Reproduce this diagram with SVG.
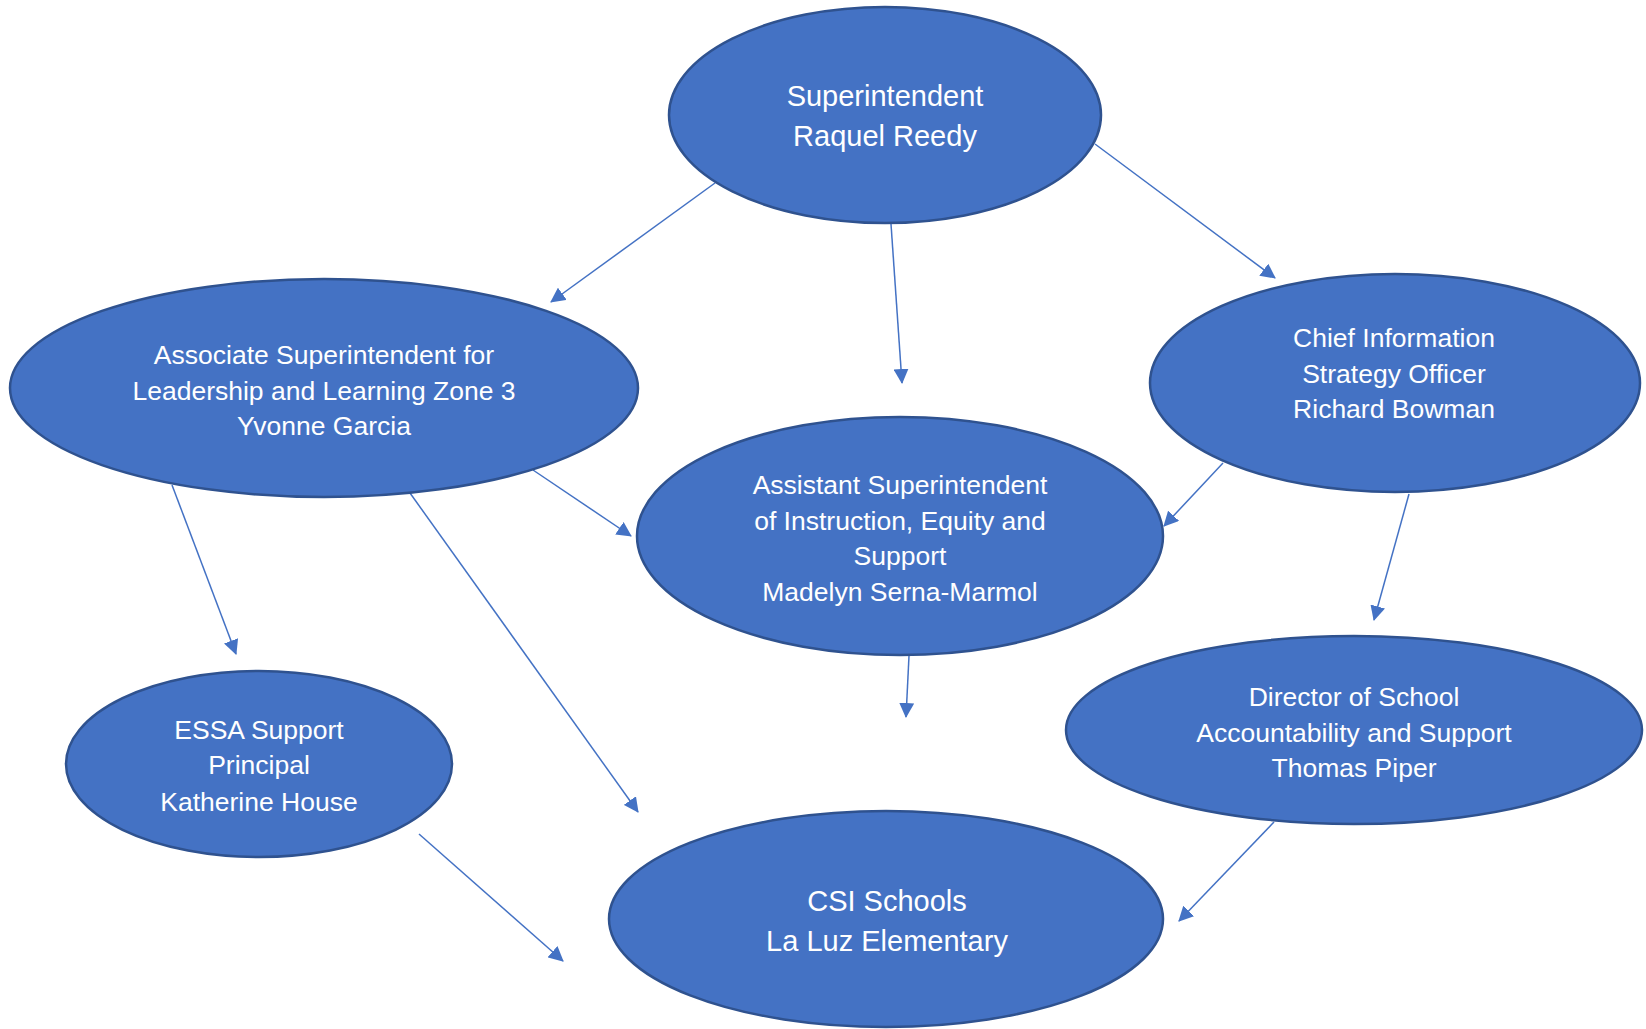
<svg xmlns="http://www.w3.org/2000/svg" width="1646" height="1029" viewBox="0 0 1646 1029">
<defs>
<style>
.node{fill:#4472C4;stroke:#2F528F;stroke-width:2.5}
.t{fill:#FFFFFF;font-family:"Liberation Sans",Arial,sans-serif;text-anchor:middle}
.lg{font-size:29px}
.sm{font-size:26.5px}
.edge{stroke:#4472C4;stroke-width:1.5;fill:none;marker-end:url(#arr)}
</style>
<marker id="arr" viewBox="0 0 15 15" refX="14" refY="7.5" markerWidth="15" markerHeight="15" markerUnits="userSpaceOnUse" orient="auto">
<path d="M0,0 L15,7.5 L0,15 z" fill="#4472C4"/>
</marker>
</defs>
<rect width="1646" height="1029" fill="#FFFFFF"/>
<g id="connectors">
<line class="edge" x1="715" y1="183" x2="551" y2="302"/>
<line class="edge" x1="891" y1="224" x2="902" y2="383"/>
<line class="edge" x1="1095" y1="144" x2="1275" y2="278"/>
<line class="edge" x1="172" y1="485" x2="236" y2="654"/>
<line class="edge" x1="533" y1="470" x2="631" y2="536"/>
<line class="edge" x1="410" y1="493" x2="638" y2="812"/>
<line class="edge" x1="1223" y1="463" x2="1164" y2="526"/>
<line class="edge" x1="1409" y1="494" x2="1374" y2="620"/>
<line class="edge" x1="909" y1="656" x2="906" y2="717"/>
<line class="edge" x1="419" y1="834" x2="563" y2="961"/>
<line class="edge" x1="1274" y1="822" x2="1179" y2="921"/>
</g>
<g id="superintendent">
<ellipse class="node" cx="885" cy="115" rx="216" ry="108"/>
<text class="t lg" x="885" y="106">Superintendent</text>
<text class="t lg" x="885" y="146">Raquel Reedy</text>
</g>
<g id="associate">
<ellipse class="node" cx="324" cy="388" rx="314" ry="109"/>
<text class="t sm" x="324" y="364">Associate Superintendent for</text>
<text class="t sm" x="324" y="400">Leadership and Learning Zone 3</text>
<text class="t sm" x="324" y="435">Yvonne Garcia</text>
</g>
<g id="chief">
<ellipse class="node" cx="1395" cy="383" rx="245" ry="109"/>
<text class="t sm" x="1394" y="347">Chief Information</text>
<text class="t sm" x="1394" y="383">Strategy Officer</text>
<text class="t sm" x="1394" y="418">Richard Bowman</text>
</g>
<g id="assistant">
<ellipse class="node" cx="900" cy="536" rx="263" ry="119"/>
<text class="t sm" x="900" y="494">Assistant Superintendent</text>
<text class="t sm" x="900" y="530">of Instruction, Equity and</text>
<text class="t sm" x="900" y="565">Support</text>
<text class="t sm" x="900" y="601">Madelyn Serna-Marmol</text>
</g>
<g id="essa">
<ellipse class="node" cx="259" cy="764" rx="193" ry="93"/>
<text class="t sm" x="259" y="739">ESSA Support</text>
<text class="t sm" x="259" y="774">Principal</text>
<text class="t sm" x="259" y="811">Katherine House</text>
</g>
<g id="director">
<ellipse class="node" cx="1354" cy="730" rx="288" ry="94"/>
<text class="t sm" x="1354" y="706">Director of School</text>
<text class="t sm" x="1354" y="742">Accountability and Support</text>
<text class="t sm" x="1354" y="777">Thomas Piper</text>
</g>
<g id="csi">
<ellipse class="node" cx="886" cy="919" rx="277" ry="108"/>
<text class="t lg" x="887" y="911">CSI Schools</text>
<text class="t lg" x="887" y="951">La Luz Elementary</text>
</g>
</svg>
